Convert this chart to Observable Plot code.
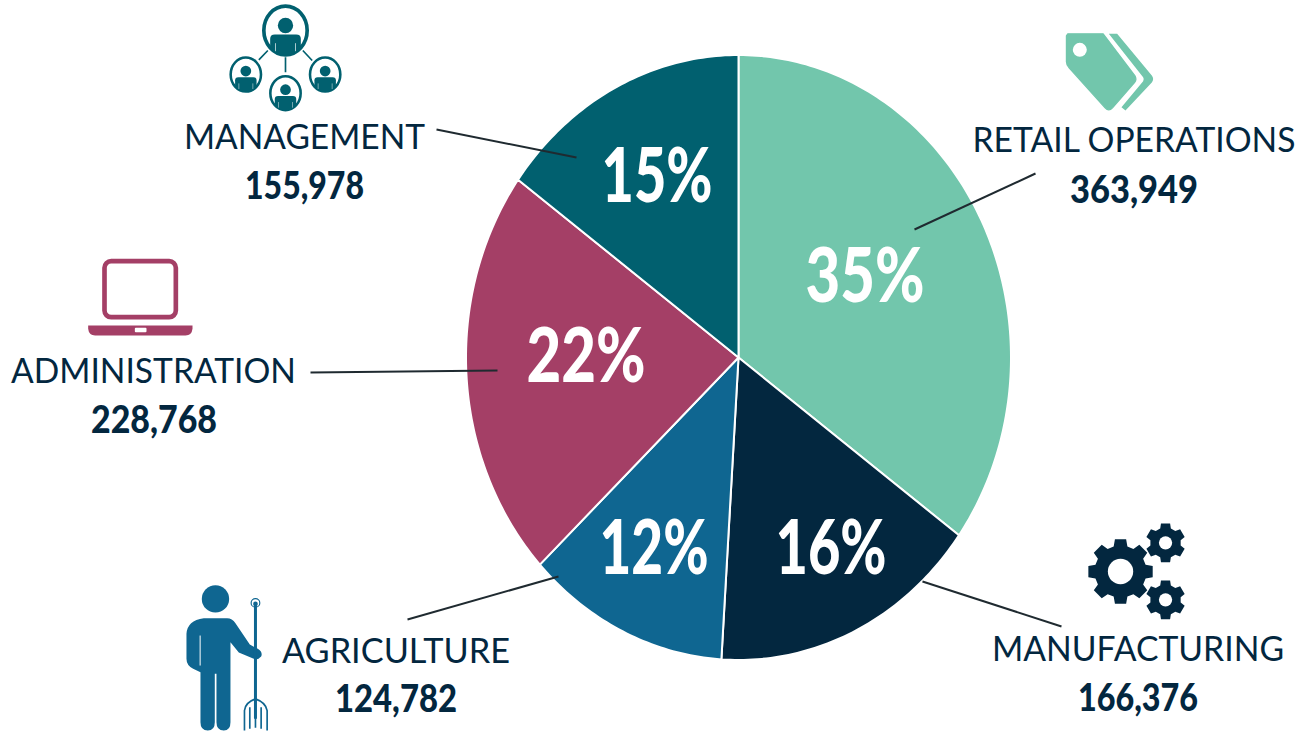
<!DOCTYPE html>
<html><head><meta charset="utf-8">
<script src="https://cdn.jsdelivr.net/npm/d3@7"></script>
<script src="https://cdn.jsdelivr.net/npm/@observablehq/plot@0.6"></script>
<style>html,body{margin:0;padding:0;background:#fff}svg{display:block}</style>
</head><body><div id="chart"></div>
<script>
// data
const categories = ["RETAIL OPERATIONS","MANUFACTURING","AGRICULTURE","ADMINISTRATION","MANAGEMENT"];
const values = [363949,166376,124782,228768,155978];
const colors = ["#72c6ac","#03273f","#0f6691","#a43f66","#01606f"];
// layout (pixel space of the x/y scales)
const labelX = [1133.5,1137.5,395.5,153,304];
const labelY = [141,649,651,371,137];
const labelW = [323,292,228,285,241];
const labelSize = [34,35,35,35,35];
const numX = [1133.5,1137.5,395.5,153.5,304];
const numY = [191,699,700,421,187];
const numW = [128,120,122,126,119];
const pctX = [864.5,830.5,653.5,585.5,656.5];
const pctY = [277,549,549,357,177];
const pctW = [119,111,109,119,111];
const leaderX1 = [1035,1061,407,310,436];
const leaderY1 = [173,626,619,372,129];
const leaderX2 = [914,922,558,497,576];
const leaderY2 = [229,581,576,370,157];
const cx = 738, cy = 357, rx = 272.5, ry = 302.5;
const ink = "#03273f";

const rows = categories.map((name,i)=>({name,value:values[i],i}));
const pieGen = d3.pie().sort(null).value(d=>d.value);
const slicePts = pieGen(rows).flatMap(a=>{
  const n = Math.ceil((a.endAngle-a.startAngle)*60), out=[{name:a.data.name,x:cx,y:cy}];
  for(let k=0;k<=n;k++){const t=a.startAngle+(a.endAngle-a.startAngle)*k/n;
    out.push({name:a.data.name,x:cx+rx*Math.sin(t),y:cy-ry*Math.cos(t)});}
  return out;
});
const total = d3.sum(values);

// icons
const uri = s=>"data:image/svg+xml,"+encodeURIComponent(s);
const wrap = (vb,body)=>`<svg xmlns="http://www.w3.org/2000/svg" viewBox="${vb}">${body}</svg>`;
function gear(x,y,ro,ri,hole,teeth,c){
  let d="";const step=2*Math.PI/teeth,off=-Math.PI/2;
  for(let k=0;k<teeth;k++){const a=off+k*step,w=step*0.22,w2=step*0.34;
    const p=(r,t)=>`${(x+r*Math.cos(t)).toFixed(1)} ${(y+r*Math.sin(t)).toFixed(1)}`;
    d+=(k?"L":"M")+p(ri,a-w2)+"L"+p(ro,a-w)+"L"+p(ro,a+w)+"L"+p(ri,a+w2);}
  return `<path d="${d}Z" fill="${c}"/><circle cx="${x}" cy="${y}" r="${hole}" fill="#fff"/>`;
}
function person(x,y,s,c){
  return `<g transform="translate(${x} ${y}) scale(${s})"><ellipse rx="65" ry="73" fill="#fff" stroke="${c}" stroke-width="11"/>
  <circle cy="-15" r="23" fill="${c}"/>
  <path d="M-46 25Q-46 12-32 12H32Q46 12 46 25V52Q25 74 0 74Q-25 74-46 52Z" fill="${c}"/>
  <path d="M-30 38V62M30 38V62" stroke="#fff" stroke-width="2"/></g>`;
}
const teal=colors[4], blue=colors[2], rose=colors[3], mint=colors[0];
const iconTag = wrap("300 30 290 250",`<path d="M322 40H428L523 165Q530 176 522 186L456 262Q445 274 434 262L326 142Q318 134 318 124V46Z" fill="${mint}" stroke="${mint}" stroke-width="4" stroke-linejoin="round"/>
  <circle cx="358" cy="88" r="21" fill="#fff"/>
  <path d="M445 40H470L574 165Q582 176 574 186L495 270L483 260L548 182Q552 176 548 170Z" fill="${mint}"/>`);
const iconLaptop = wrap("255 30 330 250",`<rect x="312" y="47" width="214" height="168" rx="20" fill="none" stroke="${rose}" stroke-width="14"/>
  <path d="M263 240H576V250Q574 270 555 270H284Q265 270 263 250Z" fill="${rose}"/><rect x="403" y="247" width="35" height="13" rx="3" fill="#fff"/>`);
const iconFarmer = wrap("40 30 270 460",`<circle cx="135" cy="85" r="41" fill="${blue}"/>
  <path d="M100 143H170Q185 143 195 158L238 222L262 235Q278 245 272 258Q262 270 248 264L205 246L180 215V455Q180 480 160 480Q138 480 138 455V310H133V455Q133 480 112 480Q90 480 90 455V305L68 295Q48 285 48 265V190Q50 150 100 143Z" fill="${blue}"/>
  <path d="M89 195V285" stroke="#fff" stroke-width="3"/>
  <circle cx="255" cy="97" r="13" fill="none" stroke="${blue}" stroke-width="3.5"/><circle cx="255" cy="100" r="7" fill="${blue}"/>
  <path d="M255 105V445" stroke="${blue}" stroke-width="9"/>
  <path d="M222 480V420Q224 396 255 385Q286 396 290 420V480M238 475V410M272 475V410M255 385V472" fill="none" stroke="${blue}" stroke-width="5"/>`);
const iconGears = wrap("310 25 320 320",gear(420,183,98,78,38,8,ink)+gear(555,97,60,46,20,6,ink)+gear(555,268,60,46,20,6,ink));
const iconTeam = wrap("170 0 350 340",`<path d="M265 178L292 150M345 170V215M397 150L425 180" stroke="${teal}" stroke-width="5" fill="none"/>`
  +person(345,90,1,teal)+person(226,222,.7,teal)+person(464,222,.7,teal)+person(345,278,.7,teal));
const icons = [
 {src:uri(iconTag),x:1108.3,y:71.7,w:96.67,h:83.33},
 {src:uri(iconGears),x:1136.7,y:571.7,w:106.67,h:106.67},
 {src:uri(iconFarmer),x:228.3,y:656.7,w:90,h:153.33},
 {src:uri(iconLaptop),x:140,y:296.7,w:110,h:83.33},
 {src:uri(iconTeam),x:285,y:56.7,w:116.67,h:113.33}
];

const labelFont = {fontFamily:"Lato, sans-serif"};
const svg = Plot.plot({
  width:1299,height:731,margin:0,
  style:{background:"#fff",overflow:"visible"},
  x:{domain:[0,1299],range:[0,1299],axis:null},
  y:{domain:[0,731],range:[0,731],axis:null},
  color:{domain:categories,range:colors},
  marks:[
    Plot.line(slicePts,{x:"x",y:"y",z:"name",fill:"name",stroke:"#fff",strokeWidth:2,curve:"linear-closed"}),
    Plot.link(rows,{x1:d=>leaderX1[d.i],y1:d=>leaderY1[d.i],x2:d=>leaderX2[d.i],y2:d=>leaderY2[d.i],stroke:"#1f2a30",strokeWidth:2}),
    Plot.text(rows,{x:d=>pctX[d.i],y:d=>pctY[d.i],text:d=>Math.round(d.value/total*100)+"%",fill:"#fff",fontSize:76,fontWeight:900,...labelFont,className:"fit pct"}),
    Plot.text(rows,{x:d=>labelX[d.i],y:d=>labelY[d.i],text:"name",fill:ink,fontSize:d=>labelSize[d.i],fontWeight:400,...labelFont,className:"fit lab"}),
    Plot.text(rows,{x:d=>numX[d.i],y:d=>numY[d.i],text:d=>d3.format(",")(d.value),fill:ink,fontSize:37,fontWeight:900,...labelFont,className:"fit num"}),
    ...icons.map(ic=>Plot.image([ic],{x:"x",y:"y",src:"src",width:ic.w,height:ic.h,preserveAspectRatio:"none"}))
  ]
});
const fit=(cls,w)=>d3.select(svg).selectAll(`.${cls} text`).attr("lengthAdjust","spacingAndGlyphs").attr("textLength",(_,i)=>w[i]);
fit("pct",pctW);fit("lab",labelW);fit("num",numW);
document.getElementById("chart").append(svg);
</script></body></html>
